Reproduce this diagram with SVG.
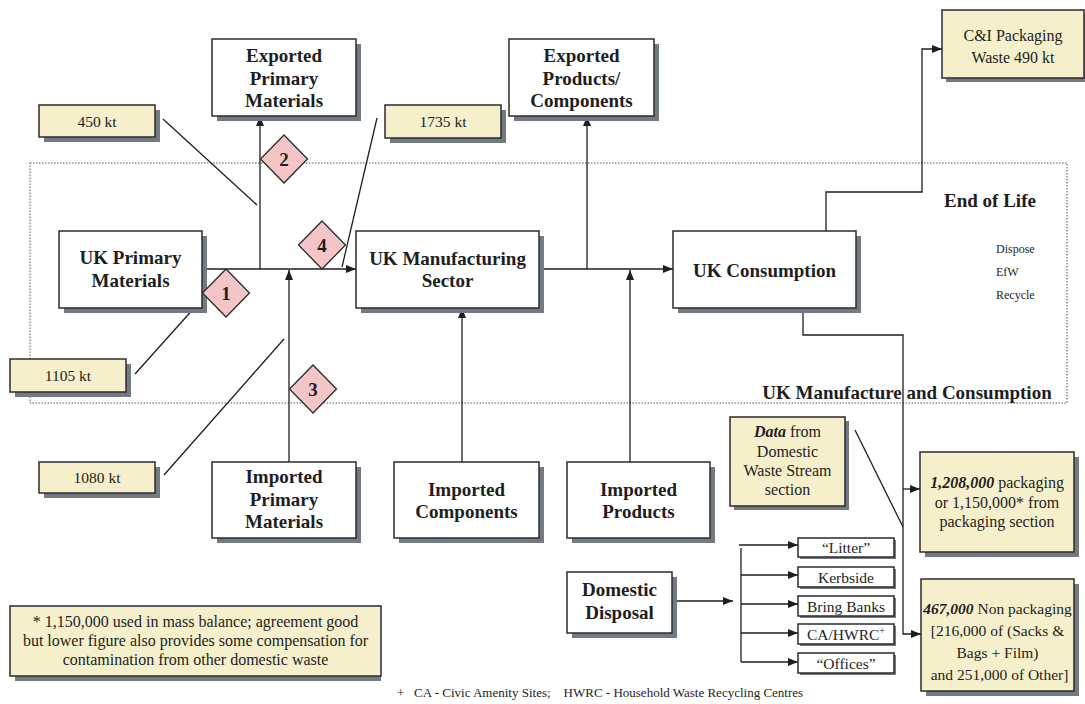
<svg xmlns="http://www.w3.org/2000/svg" width="1085" height="704" viewBox="0 0 1085 704">
<defs>
<style>
.bx{fill:#ffffff;stroke:#2b2b2b;stroke-width:1.5}
.yb{fill:#f5efcb;stroke:#2b2b2b;stroke-width:1.5}
.sh{fill:#737a81}
.dm{fill:#f3c5c7;stroke:#2b2b2b;stroke-width:1.3}
.ln{fill:none;stroke:#1e1e1e;stroke-width:1.3}
.t{font-family:"Liberation Serif","Times New Roman",serif;fill:#1e1e1e;text-anchor:middle}
.b{font-weight:bold;font-size:19px}
.r{font-size:15.5px}
.bi{font-weight:bold;font-style:italic}
</style>
<marker id="ah" viewBox="0 0 10 10" refX="10" refY="5" markerWidth="10" markerHeight="10" markerUnits="userSpaceOnUse" orient="auto">
<path d="M0,1 L10,5 L0,9 Z" fill="#1e1e1e"/>
</marker>
</defs>
<rect width="1085" height="704" fill="#ffffff"/>

<g id="frame">
<rect x="30" y="163" width="1037" height="240" fill="none" stroke="#555" stroke-width="1" stroke-dasharray="1.5,1.5"/>
<text class="t b" x="990" y="207">End of Life</text>
<text class="t b" x="907" y="399">UK Manufacture and Consumption</text>
<text class="t" x="996" y="253" font-size="12" style="text-anchor:start">Dispose</text>
<text class="t" x="996" y="276" font-size="12" style="text-anchor:start">EfW</text>
<text class="t" x="996" y="299" font-size="12" style="text-anchor:start">Recycle</text>
</g>

<g id="connectors">
<line class="ln" x1="202" y1="269" x2="356" y2="269" marker-end="url(#ah)"/>
<line class="ln" x1="260" y1="269" x2="260" y2="116" marker-end="url(#ah)"/>
<line class="ln" x1="289" y1="462" x2="289" y2="270" marker-end="url(#ah)"/>
<line class="ln" x1="539" y1="269" x2="673" y2="269" marker-end="url(#ah)"/>
<line class="ln" x1="587" y1="269" x2="587" y2="116" marker-end="url(#ah)"/>
<line class="ln" x1="462" y1="462" x2="462" y2="308" marker-end="url(#ah)"/>
<line class="ln" x1="630" y1="462" x2="630" y2="270" marker-end="url(#ah)"/>
<polyline class="ln" points="826,231 826,192 922,192 922,49 942,49" marker-end="url(#ah)"/>
<polyline class="ln" points="803,308 803,335 903,335 903,634 921,634" marker-end="url(#ah)"/>
<line class="ln" x1="903" y1="489" x2="920" y2="489" marker-end="url(#ah)"/>
<line class="ln" x1="855" y1="430" x2="903" y2="527"/>
<line class="ln" x1="163" y1="119" x2="257" y2="205"/>
<line class="ln" x1="377" y1="118" x2="342" y2="267"/>
<line class="ln" x1="135" y1="374" x2="204" y2="297"/>
<line class="ln" x1="164" y1="475" x2="284" y2="339"/>
<line class="ln" x1="672" y1="601" x2="733" y2="601" marker-end="url(#ah)"/>
<line class="ln" x1="741" y1="548" x2="741" y2="662"/>
<line class="ln" x1="739" y1="545" x2="798" y2="545" marker-end="url(#ah)"/>
<line class="ln" x1="741" y1="575" x2="798" y2="575" marker-end="url(#ah)"/>
<line class="ln" x1="741" y1="604" x2="798" y2="604" marker-end="url(#ah)"/>
<line class="ln" x1="741" y1="633" x2="798" y2="633" marker-end="url(#ah)"/>
<line class="ln" x1="741" y1="662" x2="798" y2="662" marker-end="url(#ah)"/>
</g>

<g id="exported-primary">
<rect class="sh" x="217" y="44" width="144" height="77"/>
<rect class="bx" x="212" y="39" width="144" height="77"/>
<text class="t b" x="284" y="62">Exported</text>
<text class="t b" x="284" y="84.5">Primary</text>
<text class="t b" x="284" y="107">Materials</text>
</g>

<g id="exported-products">
<rect class="sh" x="514" y="44" width="145" height="77"/>
<rect class="bx" x="509" y="39" width="145" height="77"/>
<text class="t b" x="581.5" y="62">Exported</text>
<text class="t b" x="581.5" y="84.5">Products/</text>
<text class="t b" x="581.5" y="107">Components</text>
</g>

<g id="ci-packaging">
<rect class="sh" x="946" y="14" width="142" height="68"/>
<rect class="yb" x="942" y="10" width="142" height="68"/>
<text class="t" x="1013" y="41" font-size="16">C&amp;I Packaging</text>
<text class="t" x="1013" y="63" font-size="16">Waste 490 kt</text>
</g>

<g id="kt450">
<rect class="sh" x="44" y="110" width="116" height="32"/>
<rect class="yb" x="39" y="105" width="116" height="32"/>
<text class="t r" x="97" y="127">450 kt</text>
</g>

<g id="kt1735">
<rect class="sh" x="390" y="110" width="116" height="33"/>
<rect class="yb" x="385" y="105" width="116" height="33"/>
<text class="t r" x="443" y="127">1735 kt</text>
</g>

<g id="kt1105">
<rect class="sh" x="15" y="364" width="116" height="33"/>
<rect class="yb" x="10" y="359" width="116" height="33"/>
<text class="t r" x="68" y="381">1105 kt</text>
</g>

<g id="kt1080">
<rect class="sh" x="44" y="467" width="116" height="31"/>
<rect class="yb" x="39" y="462" width="116" height="31"/>
<text class="t r" x="97" y="483">1080 kt</text>
</g>

<g id="uk-primary">
<rect class="sh" x="64" y="236" width="143" height="77"/>
<rect class="bx" x="59" y="231" width="143" height="77"/>
<text class="t b" x="130.5" y="264">UK Primary</text>
<text class="t b" x="130.5" y="287">Materials</text>
</g>

<g id="uk-manufacturing">
<rect class="sh" x="361" y="236" width="183" height="77"/>
<rect class="bx" x="356" y="231" width="183" height="77"/>
<text class="t b" x="447.5" y="265">UK Manufacturing</text>
<text class="t b" x="447.5" y="287">Sector</text>
</g>

<g id="uk-consumption">
<rect class="sh" x="678" y="236" width="183" height="77"/>
<rect class="bx" x="673" y="231" width="183" height="77"/>
<text class="t b" x="764.5" y="277">UK Consumption</text>
</g>

<g id="d1">
<polygon class="dm" points="226,269 249.5,293 226,317 202.5,293"/>
<text class="t b" x="226" y="300" font-size="20">1</text>
</g>
<g id="d2">
<polygon class="dm" points="284,135 307.5,159 284,183 260.5,159"/>
<text class="t b" x="284" y="166" font-size="20">2</text>
</g>
<g id="d3">
<polygon class="dm" points="313,365 336.5,389 313,413 289.5,389"/>
<text class="t b" x="313" y="396" font-size="20">3</text>
</g>
<g id="d4">
<polygon class="dm" points="322,221 345.5,245 322,269 298.5,245"/>
<text class="t b" x="322" y="252" font-size="20">4</text>
</g>

<g id="imported-primary">
<rect class="sh" x="217" y="467" width="144" height="76"/>
<rect class="bx" x="212" y="462" width="144" height="76"/>
<text class="t b" x="284" y="483">Imported</text>
<text class="t b" x="284" y="505.5">Primary</text>
<text class="t b" x="284" y="528">Materials</text>
</g>

<g id="imported-components">
<rect class="sh" x="399" y="467" width="145" height="76"/>
<rect class="bx" x="394" y="462" width="145" height="76"/>
<text class="t b" x="466.5" y="496">Imported</text>
<text class="t b" x="466.5" y="518">Components</text>
</g>

<g id="imported-products">
<rect class="sh" x="572" y="467" width="143" height="76"/>
<rect class="bx" x="567" y="462" width="143" height="76"/>
<text class="t b" x="638.5" y="496">Imported</text>
<text class="t b" x="638.5" y="518">Products</text>
</g>

<g id="data-domestic">
<rect class="sh" x="734" y="421" width="115" height="89"/>
<rect class="yb" x="730" y="417" width="115" height="89"/>
<text class="t" x="787.5" y="437" font-size="16"><tspan class="bi">Data</tspan> from</text>
<text class="t" x="787.5" y="457" font-size="16">Domestic</text>
<text class="t" x="787.5" y="476" font-size="16">Waste Stream</text>
<text class="t" x="787.5" y="495" font-size="16">section</text>
</g>

<g id="packaging-1208">
<rect class="sh" x="925" y="457" width="154" height="100"/>
<rect class="yb" x="920" y="452" width="154" height="100"/>
<text class="t" x="997" y="488" font-size="16"><tspan class="bi">1,208,000</tspan> packaging</text>
<text class="t" x="997" y="508" font-size="16">or 1,150,000* from</text>
<text class="t" x="997" y="527" font-size="16">packaging section</text>
</g>

<g id="non-packaging-467">
<rect class="sh" x="926" y="584" width="153" height="112"/>
<rect class="yb" x="921" y="579" width="153" height="112"/>
<text class="t" x="997.5" y="614" font-size="15.5"><tspan class="bi">467,000</tspan> Non packaging</text>
<text class="t" x="997.5" y="636" font-size="15.5">[216,000 of (Sacks &amp;</text>
<text class="t" x="997.5" y="658" font-size="15.5">Bags + Film)</text>
<text class="t" x="999.5" y="680" font-size="15.5">and 251,000 of Other]</text>
</g>

<g id="domestic-disposal">
<rect class="sh" x="572" y="577" width="105" height="61"/>
<rect class="bx" x="567" y="572" width="105" height="61"/>
<text class="t b" x="619.5" y="596">Domestic</text>
<text class="t b" x="619.5" y="619">Disposal</text>
</g>

<g id="litter">
<rect class="sh" x="800" y="540" width="96" height="19"/>
<rect class="bx" x="798" y="538" width="96" height="19" stroke-width="1.2"/>
<text class="t r" x="846" y="553">“Litter”</text>
</g>
<g id="kerbside">
<rect class="sh" x="800" y="569" width="96" height="20"/>
<rect class="bx" x="798" y="567" width="96" height="20" stroke-width="1.2"/>
<text class="t r" x="846" y="582.5">Kerbside</text>
</g>
<g id="bring-banks">
<rect class="sh" x="800" y="598" width="96" height="20"/>
<rect class="bx" x="798" y="596" width="96" height="20" stroke-width="1.2"/>
<text class="t r" x="846" y="611.5">Bring Banks</text>
</g>
<g id="ca-hwrc">
<rect class="sh" x="800" y="626" width="96" height="20"/>
<rect class="bx" x="798" y="624" width="96" height="20" stroke-width="1.2"/>
<text class="t r" x="846" y="639.5">CA/HWRC<tspan font-size="10" dy="-6">+</tspan></text>
</g>
<g id="offices">
<rect class="sh" x="800" y="655" width="96" height="20"/>
<rect class="bx" x="798" y="653" width="96" height="20" stroke-width="1.2"/>
<text class="t r" x="846" y="668.5">“Offices”</text>
</g>

<g id="note">
<rect class="sh" x="15" y="611" width="366" height="70"/>
<rect class="yb" x="10" y="606" width="371" height="70"/>
<text class="t" x="195.5" y="627" font-size="16">* 1,150,000 used in mass balance; agreement good</text>
<text class="t" x="195.5" y="646" font-size="16">but lower figure also provides some compensation for</text>
<text class="t" x="195.5" y="665" font-size="16">contamination from other domestic waste</text>
</g>

<g id="footnote">
<text class="t" x="397" y="697" font-size="13" style="text-anchor:start" xml:space="preserve">+   CA - Civic Amenity Sites;    HWRC - Household Waste Recycling Centres</text>
</g>
</svg>
